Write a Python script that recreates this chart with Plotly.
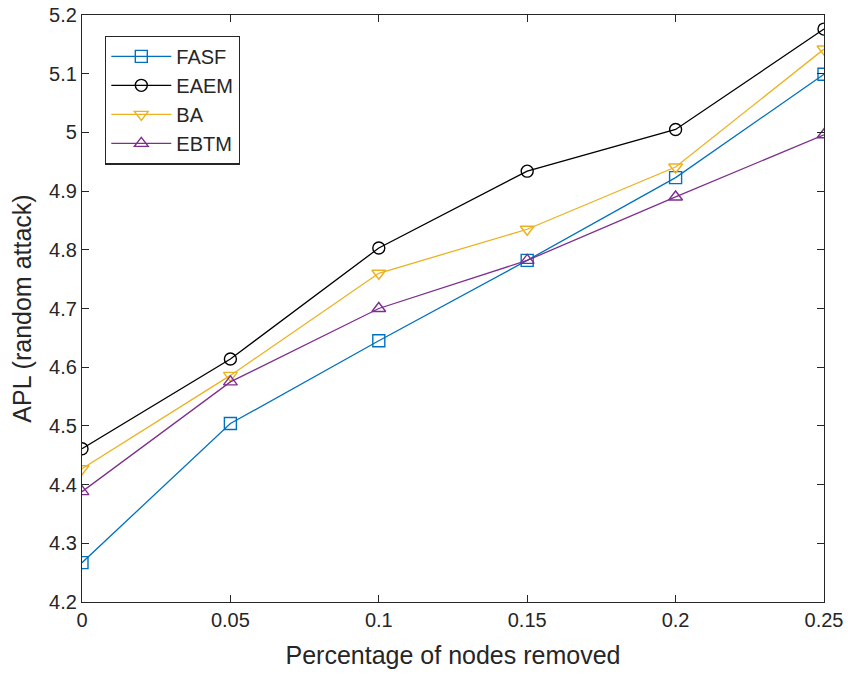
import plotly.graph_objects as go

x = [0, 0.05, 0.1, 0.15, 0.2, 0.25]
fasf = [4.267, 4.504, 4.645, 4.782, 4.923, 5.099]
eaem = [4.461, 4.614, 4.803, 4.934, 5.005, 5.176]
ba = [4.427, 4.586, 4.760, 4.835, 4.941, 5.142]
ebtm = [4.388, 4.575, 4.700, 4.782, 4.890, 4.996]
xticks = ["0", "0.05", "0.1", "0.15", "0.2", "0.25"]
yvals = [4.2, 4.3, 4.4, 4.5, 4.6, 4.7, 4.8, 4.9, 5.0, 5.1, 5.2]
yticks = ["4.2", "4.3", "4.4", "4.5", "4.6", "4.7", "4.8", "4.9", "5", "5.1", "5.2"]

series = [
    ("FASF", fasf, "#0072BD", "square-open"),
    ("EAEM", eaem, "#000000", "circle-open"),
    ("BA", ba, "#EDB120", "triangle-down-open"),
    ("EBTM", ebtm, "#7E2F8E", "triangle-up-open"),
]

fig = go.Figure()
for name, y, c, sym in series:
    fig.add_trace(go.Scatter(x=x, y=y, name=name, mode="lines+markers",
                             line=dict(color=c, width=1.3),
                             marker=dict(symbol=sym, size=12, color=c, line=dict(width=1.4, color=c))))

font = "Liberation Sans, Arial"
axis_common = dict(showline=True, linecolor="#262626", linewidth=1.3, mirror="ticks",
                   ticks="inside", ticklen=7, tickcolor="#262626", showgrid=False,
                   zeroline=False, automargin=False, ticklabeloverflow="allow",
                   tickfont=dict(size=20, color="#262626", family=font))
fig.update_layout(
    width=848, height=674, paper_bgcolor="white", plot_bgcolor="white",
    margin=dict(l=82, r=24, t=15, b=72),
    font=dict(family=font, color="#262626"),
    xaxis=dict(range=[0, 0.25], tickvals=x, ticktext=xticks,
               title=dict(text="Percentage of nodes removed", font=dict(size=25), standoff=16), **axis_common),
    yaxis=dict(range=[4.2, 5.2], tickvals=yvals, ticktext=yticks,
               title=dict(text="APL (random attack)", font=dict(size=25), standoff=10), **axis_common),
    legend=dict(x=0.031, y=0.965, xanchor="left", yanchor="top", bgcolor="white",
                bordercolor="#262626", borderwidth=1.3, font=dict(size=20, color="#262626"),
                itemwidth=60, tracegroupgap=0),
    showlegend=True,
)
fig.write_html("out.html")
